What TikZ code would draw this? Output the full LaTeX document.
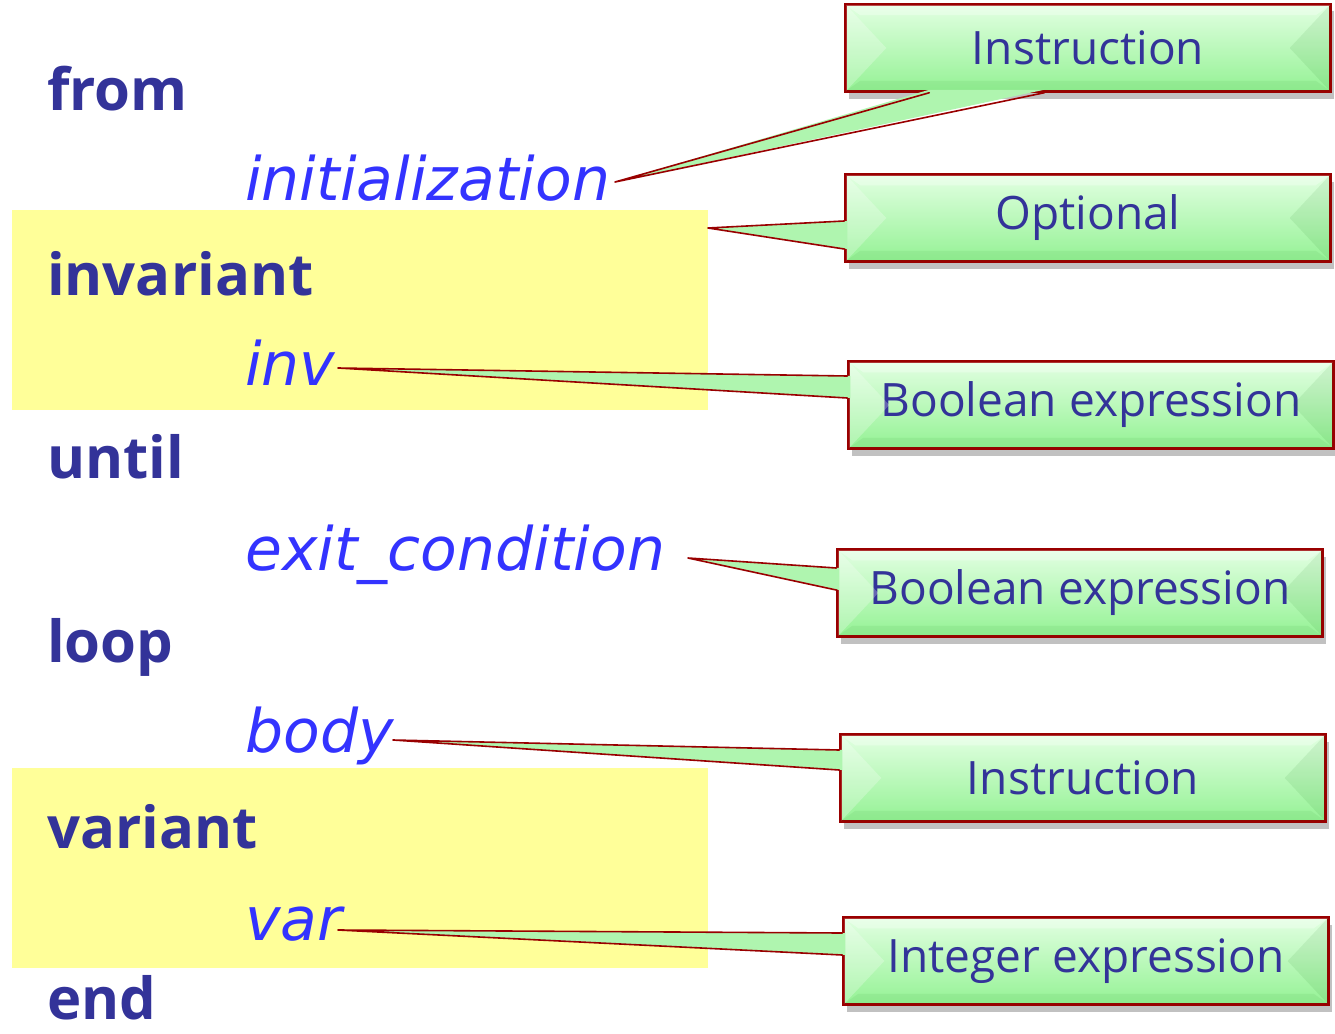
\documentclass[tikz,border=0pt]{standalone}
\usepackage{fontspec}
\setmainfont{Open Sans}
\newfontfamily\identfont{DejaVu Sans}
\usetikzlibrary{calc,shadows}

\definecolor{kwblue}{HTML}{333399}
\definecolor{idblue}{HTML}{3333FF}
\definecolor{notered}{HTML}{990000}
\definecolor{notegreen}{HTML}{94F294}
\definecolor{notelight}{HTML}{E2FFE2}
\definecolor{hiyellow}{HTML}{FFFF99}

\tikzset{
  keyword/.style={anchor=base west,inner sep=0,text=kwblue,font=\fontsize{58}{68}\selectfont\bfseries},
  ident/.style={anchor=base west,inner sep=0,text=idblue,font=\identfont\fontsize{60}{70}\selectfont\itshape},
  note/.style={draw=notered,line width=2.5pt,minimum width=485,minimum height=87,inner sep=0,
    top color=notelight,bottom color=notegreen,text=kwblue,font=\fontsize{46}{54}\selectfont,
    drop shadow={shadow xshift=3pt,shadow yshift=-7pt,opacity=0.35,fill=black!70}},
  pointer/.style={fill=notegreen!75!white},
  pointerline/.style={draw=notered,line width=1.6pt,line join=round,line cap=round}
}

\begin{document}
\begin{tikzpicture}[x=1pt,y=-1pt]
\useasboundingbox (0,0) rectangle (1335,1033);

% highlighted clauses
\fill[hiyellow] (12,210) rectangle (708,410);
\fill[hiyellow] (12,768) rectangle (708,968);

% loop text
\path (47,110) node (from) [keyword] {from};
\path (245,200) node (init) [ident] {initialization};
\path (47,295) node (invkw) [keyword] {invariant};
\path (245,385) node (inv) [ident] {inv};
\path (47,478) node (until) [keyword] {until};
\path (245,570) node (exit) [ident] {exit\_condition};
\path (47,662) node (loop) [keyword] {loop};
\path (245,752) node (body) [ident] {body};
\path (47,848) node (varkw) [keyword] {variant};
\path (245,940) node (var) [ident] {var};
\path (47,1019) node (end) [keyword] {end};

% callouts
\path (1088,48) node (instr1) [note] {Instruction};
\path (1088,218) node (option) [note] {Optional};
\path (1091,405) node (bool1) [note] {Boolean expression};
\path (1080,593) node (bool2) [note] {Boolean expression};
\path (1083,778) node (instr2) [note] {Instruction};
\path (1086,961) node (intexp) [note] {Integer expression};

% bevels
\foreach \n in {instr1,option,bool1,bool2,instr2,intexp}{
  \fill[white,opacity=0.25] ($(\n.north west)+(2,2)$) -- ($(\n.west)+(42,0)$) -- ($(\n.south west)+(2,-2)$) -- cycle;
  \fill[green!40!black,opacity=0.08] ($(\n.north east)+(-2,2)$) -- ($(\n.east)+(-42,0)$) -- ($(\n.south east)+(-2,-2)$) -- cycle;
  \fill[white,opacity=0.3] ($(\n.north west)+(2,2)$) -- ($(\n.north west)+(16,12)$) -- ($(\n.north east)+(-16,12)$) -- ($(\n.north east)+(-2,2)$) -- cycle;
  \fill[green!40!black,opacity=0.06] ($(\n.south west)+(2,-2)$) -- ($(\n.south west)+(16,-12)$) -- ($(\n.south east)+(-16,-12)$) -- ($(\n.south east)+(-2,-2)$) -- cycle;
}

% pointer tips
\coordinate (tinit) at (615,182);
\coordinate (topt) at (708,228);
\coordinate (tinv) at (338,368);
\coordinate (texit) at (688,558);
\coordinate (tbody) at (393,740);
\coordinate (tvar) at (338,930);

\fill[pointer] (tinit) -- ($(instr1.south west)+(85,-3)$) -- ($(instr1.south west)+(200,-3)$) -- cycle;
\draw[pointerline] ($(instr1.south west)+(85,0)$) -- (tinit) -- ($(instr1.south west)+(200,0)$);
\fill[pointer] (topt) -- ($(option.west)+(3,3)$) -- ($(option.west)+(3,31)$) -- cycle;
\draw[pointerline] ($(option.west)+(0,3)$) -- (topt) -- ($(option.west)+(0,31)$);
\fill[pointer] (tinv) -- ($(bool1.west)+(3,-29)$) -- ($(bool1.west)+(3,-7)$) -- cycle;
\draw[pointerline] ($(bool1.west)+(0,-29)$) -- (tinv) -- ($(bool1.west)+(0,-7)$);
\fill[pointer] (texit) -- ($(bool2.west)+(3,-25)$) -- ($(bool2.west)+(3,-3)$) -- cycle;
\draw[pointerline] ($(bool2.west)+(0,-25)$) -- (texit) -- ($(bool2.west)+(0,-3)$);
\fill[pointer] (tbody) -- ($(instr2.west)+(3,-28)$) -- ($(instr2.west)+(3,-8)$) -- cycle;
\draw[pointerline] ($(instr2.west)+(0,-28)$) -- (tbody) -- ($(instr2.west)+(0,-8)$);
\fill[pointer] (tvar) -- ($(intexp.west)+(3,-28)$) -- ($(intexp.west)+(3,-6)$) -- cycle;
\draw[pointerline] ($(intexp.west)+(0,-28)$) -- (tvar) -- ($(intexp.west)+(0,-6)$);
\end{tikzpicture}
\end{document}
